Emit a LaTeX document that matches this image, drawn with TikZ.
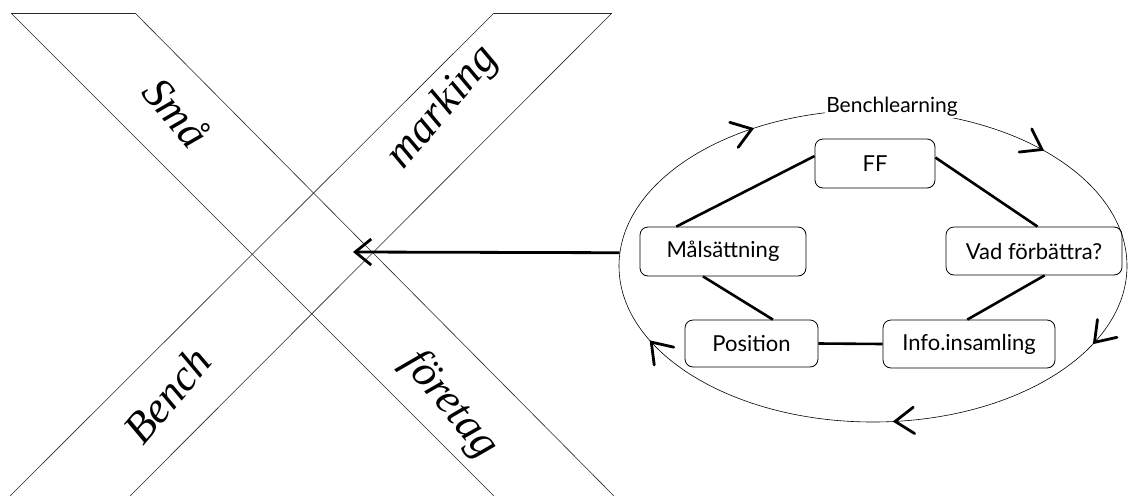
\documentclass[tikz,border=0pt]{standalone}
\usepackage{fontspec}
\setmainfont{Liberation Serif}
\newfontfamily\boxfont{Lato}
\usetikzlibrary{shapes.geometric,arrows.meta,calc}
\begin{document}
\begin{tikzpicture}[x=1pt,y=-1pt,
  band/.style={line width=0.6pt, draw=black!85},
  bigword/.style={font=\fontsize{44}{44}\selectfont\itshape, inner sep=0pt},
  stepbox/.style={draw, rounded corners=8pt, line width=0.8pt,
    font=\boxfont\fontsize{22}{22}\selectfont, inner sep=0pt, align=center},
  link/.style={line width=2.6pt},
  chevline/.style={line width=2.8pt, line join=miter, line cap=round},
  mainarrow/.style={line width=2.8pt, -{Straight Barb[length=16pt,width=26pt]}},
]
\useasboundingbox (0,0) rectangle (1128,496);
% X bands
\draw[band] (11,13) -- (135,13);
\draw[band] (11,13) -- (494,496);
\draw[band] (135,13) -- (614,496);
\draw[band] (494,13) -- (612,13);
\draw[band] (494,13) -- (10,496);
\draw[band] (612,13) -- (130,496);
\node[bigword, rotate=-50] (sma) at (177,112) {Små};
\node[bigword, rotate=50] (marking) at (443,108) {marking};
\node[bigword, rotate=50] (bench) at (167,395) {Bench};
\node[bigword, rotate=-50] (foretag) at (450,405) {företag};
% ellipse
\node[draw, ellipse, line width=0.6pt, minimum width=508pt, minimum height=312pt, inner sep=0pt] (E) at (873,266) {};
\node[fill=white, inner sep=1pt, font=\boxfont\fontsize{21}{21}\selectfont] (bl) at (892,107) {Benchlearning};
% boxes
\node[stepbox, minimum width=120pt, minimum height=49pt] (FF) at (875,163.5) {FF};
\node[stepbox, minimum width=166pt, minimum height=49pt] (mal) at (723,251.5) {Målsättning};
\node[stepbox, minimum width=176pt, minimum height=48pt] (vad) at (1034,251) {Vad förbättra?};
\node[stepbox, minimum width=133pt, minimum height=47pt] (pos) at (751.5,343.5) {Position};
\node[stepbox, minimum width=172pt, minimum height=48pt] (info) at (969,344) {Info.insamling};
% links
\draw[link] ($(FF.north west)!0.35!(FF.south west)$) -- ($(mal.north west)!0.22!(mal.north east)$);
\draw[link] ($(FF.north east)!0.38!(FF.south east)$) -- ($(vad.north west)!0.52!(vad.north east)$);
\draw[link] ($(vad.south west)!0.56!(vad.south east)$) -- ($(info.north west)!0.49!(info.north east)$);
\draw[link] (pos.east) -- (info.west);
\draw[link] ($(mal.south west)!0.38!(mal.south east)$) -- ($(pos.north west)!0.66!(pos.north east)$);
% main arrow
\coordinate (tip) at (353,252);
\draw[mainarrow] (E.177) -- (tip);
% chevrons on ellipse (clockwise)
\foreach \s in {241.5,311.7,29.3,85,150.8} {
  \pgfmathsetmacro\ph{atan2(156*cos(\s), -254*sin(\s))}
  \path ([shift={(\s:254 and 156)}]873,266) coordinate (p);
  \draw[chevline] ($(p)+(\ph+145:23)$) -- (p) -- ($(p)+(\ph-145:23)$);
}
\end{tikzpicture}
\end{document}
